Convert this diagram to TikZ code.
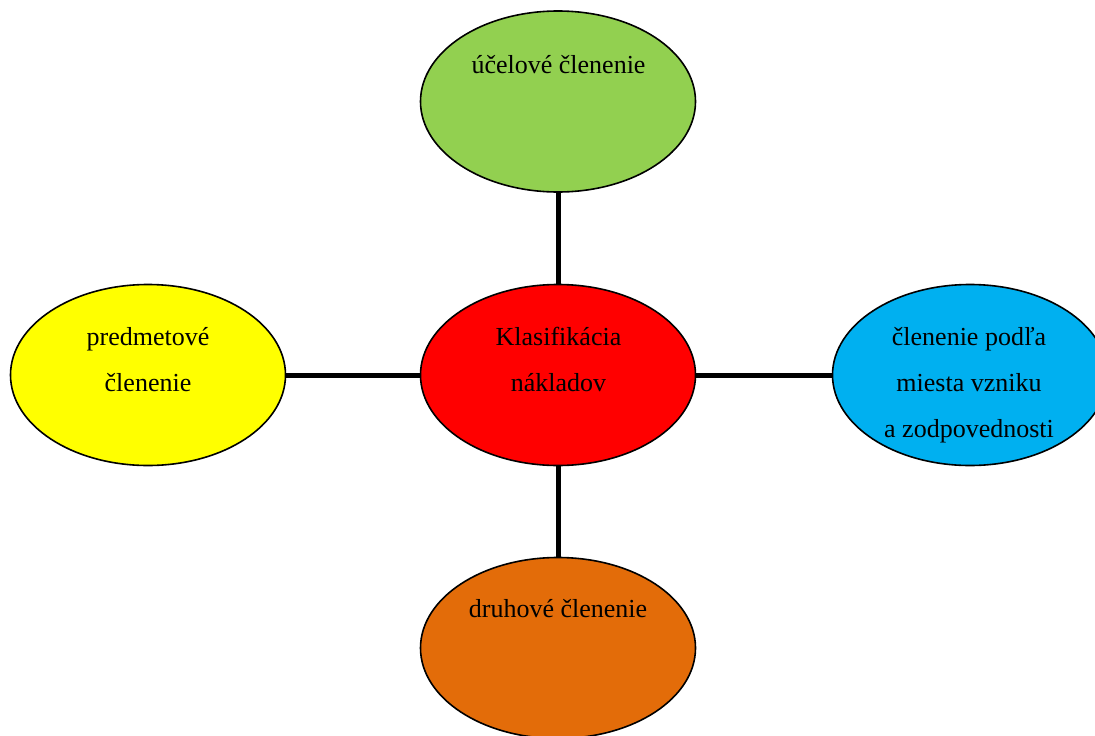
\documentclass[tikz,border=0pt]{standalone}
\usepackage{fontspec}
\setmainfont{Liberation Serif}
\usetikzlibrary{shapes.geometric}
\definecolor{cgreen}{HTML}{92D050}
\definecolor{cred}{HTML}{FF0000}
\definecolor{cyellow}{HTML}{FFFF00}
\definecolor{cblue}{HTML}{00B0F0}
\definecolor{corange}{HTML}{E36C09}
\tikzset{
  oval/.style={ellipse, draw=black, line width=1.6pt, minimum width=275pt, minimum height=181pt, inner sep=0pt, outer sep=0pt},
  lbl/.style={anchor=base, align=center, inner sep=0pt, font=\fontsize{26}{46}\selectfont},
  conn/.style={line width=5pt, black}
}
\begin{document}
\begin{tikzpicture}[x=1pt,y=-1pt]
\useasboundingbox (0,0) rectangle (1095,736);
\node[oval, fill=cgreen] (g) at (558,101.5) {};
\node[oval, fill=cred] (r) at (558,375) {};
\node[oval, fill=cyellow] (y) at (148,375) {};
\node[oval, fill=cblue] (b) at (970,375) {};
\node[oval, fill=corange] (o) at (558,648) {};
\draw[conn] (g.south) -- (r.north);
\draw[conn] (r.south) -- (o.north);
\draw[conn] (y.east) -- (r.west);
\draw[conn] (r.east) -- (b.west);
\node[lbl] (tg) at (558.5,73) {účelové členenie};
\node[lbl] (tr) at (558.5,391) {Klasifikácia\\nákladov};
\node[lbl] (ty) at (148,391) {predmetové\\členenie};
\node[lbl] (tb) at (969,437) {členenie podľa\\miesta vzniku\\a zodpovednosti};
\node[lbl] (to) at (558,617) {druhové členenie};
\end{tikzpicture}
\end{document}
